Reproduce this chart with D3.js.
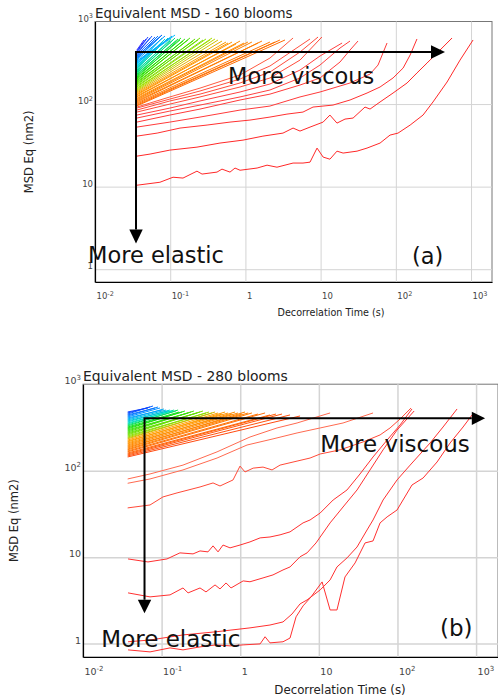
<!DOCTYPE html>
<html>
<head>
<meta charset="utf-8">
<script src="https://cdn.jsdelivr.net/npm/d3@7"></script>
<style>
body { margin: 0; background: #fff; }
svg text { font-family: "DejaVu Sans", Verdana, sans-serif; }
</style>
</head>
<body>
<div id="chart"></div>
<script>
// ---- shared axes ----
var xDomain = [0.01, 1900];
var yDomain = [0.7, 1000];
var xTicks = [0.01, 0.1, 1, 10, 100, 1000];
var yTicks = [1, 10, 100, 1000];

// ---- panel (a): 160 blooms ----
var titleA = "Equivalent MSD - 160 blooms";
// separate red curves, bottom to top, [time (s), MSD (nm2)]
var redCurvesA = [
  [[0.036,10.4],[0.073,11.3],[0.109,13.0],[0.148,12.7],[0.227,15.4],[0.265,14.2],[0.419,15.0],[0.488,16.3],[0.624,15.0],[0.727,16.8],[0.848,15.8],[1.43,16.8],[1.94,18.2],[2.63,17.2],[4.3,19.3],[5.83,19.3],[7.23,19.8],[8.96,29.3],[10.8,22.8],[13.3,21.5],[16.5,26.9],[19.9,25.5],[30.5,26.9],[41.4,29.3],[61.7,33.7],[83.7,42.1],[107,44.5],[155,55.7],[230,73.6],[312,106],[480,185],[714,341],[1064,597]],
  [[0.036,23.4],[0.054,24.8],[0.099,27.7],[0.227,30.1],[0.459,33.7],[0.929,36.6],[1.71,40.9],[3.16,44.5],[4.3,51.2],[5.32,47.1],[7.23,52.6],[10.8,60.5],[13.3,73.6],[16.5,58.8],[21.1,65.8],[27.0,67.7],[38.9,92],[45.4,87],[61.7,106],[91.8,136],[141,180],[191,238],[260,314],[387,451],[559,631]],
  [[0.036,40.9],[0.067,44.5],[0.135,51.2],[0.309,55.7],[0.624,60.5],[1.15,64],[2.12,69.6],[3.57,75.6],[5.83,80],[7.92,92],[14.6,97.2],[24.6,112],[41.4,136],[61.7,161],[91.8,207],[125,273],[155,393],[191,614]],
  [[0.036,52.6],[0.099,60.5],[0.249,69.6],[0.848,84.6],[2.12,94.6],[5.32,122],[9.82,140],[24.6,180],[45.4,231],[58,297],[76.4,549]],
  [[0.036,60.5],[0.099,73.6],[0.249,87],[0.848,112],[2.12,132],[5.32,170],[9.82,207],[18.1,323],[24.6,451],[31.4,580]],
  [[0.036,67.7],[0.099,82.3],[0.249,97.2],[0.848,122],[2.12,148],[5.32,207],[9.82,297],[18.1,477],[24.6,580]],
  [[0.036,73.6],[0.099,89.4],[0.249,109],[0.848,140],[2.12,175],[5.32,258],[9.82,382],[19.3,549]],
  [[0.036,80],[0.099,100],[0.249,122],[0.848,161],[2.12,207],[5.32,341],[10.4,649]],
  [[0.036,84.6],[0.099,109],[0.249,132],[0.848,180],[2.12,244],[5.32,427],[9.24,649]],
  [[0.036,89.4],[0.099,115],[0.249,144],[0.848,201],[2.12,289],[7.23,614]],
  [[0.036,92],[0.099,122],[0.249,156],[0.848,225],[2.12,361],[4.3,631]]
];
// dense fan of curves (orange -> blue), start MSD at fanStartTA, end point
var fanStartTA = 0.036;
var fanStartMsdA = [95,97,100,103,106,109,112,115,118,122,125,129,132,136,
  140,144,148,152,156,161,165,170,175,180,185,190,195,201,207,
  212,219,225,231,238,244,251,258,266,273,281,289,297,305,
  314,323,332,341,351,361,371,382,393,404,415,427,439,451];
var fanEndTA = [3.36,2.88,2.48,2.12,1.66,1.47,1.22,1.08,0.958,0.848,0.75,0.664,0.587,0.552,
  0.488,0.432,0.394,0.36,0.338,0.299,0.273,0.249,0.234,0.214,0.201,0.183,0.172,0.157,0.148,
  0.139,0.135,0.127,0.119,0.116,0.109,0.102,0.0994,0.0935,0.0879,0.0853,0.0802,0.0778,0.0732,
  0.116,0.106,0.0994,0.0853,0.0778,0.0732,0.0688,0.0778,0.0628,0.0573,0.0539,0.0507,0.0477,0.0448];
var fanEndMsdA = [597,597,564,564,580,549,564,564,549,580,534,564,549,564,
  580,597,614,631,597,614,597,631,597,614,580,631,597,614,580,
  631,597,614,580,631,597,614,580,631,597,614,580,631,597,
  686,667,631,667,686,649,667,686,649,667,631,649,614,597];
var arrowA = [0.0351, 427, 451, 2.05];          // corner t, corner MSD, right tip t, lower tip MSD
var notesA = [[0.587, 175], [0.00807, 1.20], [164, 1.15]];

// ---- panel (b): 280 blooms ----
var titleB = "Equivalent MSD - 280 blooms";
var redCurvesB = [
  [[0.037,80.2],[0.0712,91.6],[0.187,116],[0.507,165],[1.33,245],[2.94,312],[5.28,356],[7.73,396],[13.9,465]],
  [[0.037,71.5],[0.0712,80.2],[0.187,102],[0.507,140],[1.22,198],[2.61,233],[5.28,273],[10.4,312],[20.3,356],[48.9,465]],
  [[0.037,37.1],[0.0712,40.1],[0.104,49.7],[0.157,55.3],[0.308,64.8],[0.451,72.1],[0.553,66.5],[0.81,78.1],[0.994,113],[1.15,96.6],[1.46,107],[1.95,110],[2.54,102],[3.21,116],[5.28,129],[7.73,140],[10.4,156],[18.6,174],[36.5,215],[60.1,259],[80.5,312],[108,396],[149,531]],
  [[0.0374,9.53],[0.0671,8.8],[0.117,9.53],[0.171,11.2],[0.251,10.9],[0.308,11.8],[0.389,11.5],[0.451,13.5],[0.522,11.5],[0.604,13.8],[0.742,12.8],[0.994,13.8],[1.33,15.0],[1.79,16.7],[2.39,17.1],[3.21,18.1],[4.3,19.6],[6.3,24.9],[7.73,26.9],[10.4,32.4],[15.2,45.8],[22.8,59.8],[33.4,91.6],[48.9,144],[73.8,226],[108,338],[153,517]],
  [[0.0374,3.86],[0.0712,3.47],[0.128,3.66],[0.187,4.4],[0.217,3.86],[0.308,4.4],[0.367,3.96],[0.478,4.77],[0.553,4.29],[0.66,5.03],[0.764,4.4],[1.09,5.31],[1.33,5.19],[1.95,5.75],[2.61,6.23],[3.5,7.11],[4.3,7.7],[5.77,10.1],[7.08,11.2],[9.21,14.6],[10.4,17.1],[13.9,24.9],[20.3,38],[30.6,59.8],[44.8,102],[65.6,174],[98.8,295],[163,490]],
  [[0.0374,1.05],[0.0712,1.1],[0.187,1.26],[0.492,1.37],[1.33,1.52],[2.39,1.64],[3.5,1.78],[4.56,2.2],[5.77,2.88],[7.08,3.2],[10.4,4.18],[13.9,5.45],[17,7.7],[22.8,9.79],[30.6,13.1],[41,20.6],[48.9,26.9],[65.6,45.8],[98.8,78.1],[145,116],[260,209],[380,320],[573,517]],
  [[0.0374,0.846],[0.0712,0.802],[0.128,0.892],[0.187,0.846],[0.308,0.916],[0.492,0.966],[0.742,0.941],[1.09,0.966],[1.79,0.992],[2.07,1.2],[2.39,1.02],[3.5,1.05],[4.3,1.16],[5.13,2.04],[6.3,2.73],[7.96,3.47],[11,5.17],[13.9,2.45],[17,2.45],[21.5,5.9],[28.9,8.57],[38.7,14.6],[48.9,15.4],[60.1,24.9],[73.8,29.2],[98.8,35.1],[153,68.3],[212,82.3],[319,126],[467,209],[683,320],[890,441]]
];
var fanStartTB = 0.037;
var fanStartMsdB = [144,148,152,156,160,165,169,174,
  178,183,188,193,198,204,209,215,220,226,
  233,239,245,252,259,266,273,280,288,296,304,312,320,
  329,338,347,356,366,376,386,396,407,
  418,429,441,452,465,477];
var fanEndTB = [5.77,4.3,3.4,2.85,2.39,2.07,1.68,1.41,
  1.26,1.15,1.05,0.937,0.859,0.786,0.70,0.641,0.587,0.522,
  0.478,0.438,0.401,0.367,0.336,0.308,0.282,0.258,0.237,0.217,0.198,0.182,0.167,
  0.162,0.152,0.144,0.136,0.128,0.121,0.114,0.107,0.101,
  0.0954,0.090,0.0824,0.0777,0.0712,0.0671];
var fanEndMsdB = [429,441,452,452,441,465,452,465,
  465,477,452,465,477,452,465,477,452,465,
  477,465,477,465,490,477,465,490,477,465,490,477,477,
  503,490,503,490,503,490,503,517,503,
  531,545,531,560,545,531];
var arrowB = [0.0606, 403, 1302, 2.25];
var notesB = [[10.4, 166], [0.0171, 0.923], [348, 1.23]];

var svg = d3.select("#chart").append("svg")
  .attr("width", 498).attr("height", 700);

var panels = [
  { left: 95, top: 21.5, width: 397, height: 260.5, title: titleA, titleY: -4, titleSize: 13.4,
    tickFont: 8.5, supFont: 6.5, supShift: 3.5, xLabelY: 17, xTitleX: 236, xTitleY: 34, xTitleSize: 9.6,
    yTitleX: -62, yTitleSize: 11.5, noteSize: 22.5, gridW: 1,
    red: redCurvesA, redColor: ["#ff2828","#ff2828","#ff3030","#ff3a3a","#ff3a3a","#ff4040","#ff4040","#ff4a3a","#ff4a3a","#ff5040","#ff5a40"],
    fanT: fanStartTA, fanMsd: fanStartMsdA, fanEndT: fanEndTA, fanEndMsd: fanEndMsdA,
    colorStops: [0, 0.23, 0.3, 0.5, 0.6, 0.75, 0.86, 1],
    colorRange: ["#ff6a00","#ff9a00","#a8e000","#20e000","#00e080","#00c8ff","#0080ff","#2a2aff"],
    arrow: arrowA, notes: notesA, tag: "(a)", headLen: 14, headHalf: 6.7 },
  { left: 83, top: 384.2, width: 415, height: 272.8, title: titleB, titleY: -3.2, titleSize: 13.9,
    tickFont: 9.5, supFont: 7, supShift: 4, xLabelY: 18, xTitleX: 257, xTitleY: 37, xTitleSize: 11.8,
    yTitleX: -65, yTitleSize: 11.5, noteSize: 23, gridW: 1.5,
    red: redCurvesB, redColor: ["#ff6a50","#ff6a50","#ff4a38","#ff3030","#ff3030","#ff3030","#ff3030"],
    fanT: fanStartTB, fanMsd: fanStartMsdB, fanEndT: fanEndTB, fanEndMsd: fanEndMsdB,
    colorStops: [0, 0.16, 0.38, 0.45, 0.66, 0.75, 0.87, 1],
    colorRange: ["#ff4a10","#ff7a00","#ffa000","#90e000","#10e010","#00e0c0","#00a0ff","#1040ff"],
    arrow: arrowB, notes: notesB, tag: "(b)", headLen: 13.3, headHalf: 6.7 }
];

function tickText(sel, v, p) {
  var e = Math.round(Math.log10(v));
  sel.text(null);
  if (e === 0) { sel.text("1"); return; }
  if (e === 1) { sel.text("10"); return; }
  sel.append("tspan").text("10");
  sel.append("tspan").attr("font-size", p.supFont).attr("dy", -p.supShift)
    .text(e < 0 ? "-" + (-e) : String(e));
}

panels.forEach(function (p, k) {
  var g = svg.append("g").attr("transform", `translate(${p.left},${p.top})`);
  var x = d3.scaleLog().domain(xDomain).range([0, p.width]);
  var y = d3.scaleLog().domain(yDomain).range([p.height, 0]);

  g.append("rect").attr("width", p.width).attr("height", p.height)
    .attr("fill", "#fff").attr("stroke", "#777").attr("stroke-width", 1);

  // gridlines
  g.append("g").attr("transform", `translate(0,${p.height})`)
    .call(d3.axisBottom(x).tickValues(xTicks.slice(1)).tickSize(-p.height).tickFormat(""))
    .call(s => s.select(".domain").remove())
    .selectAll("line").attr("stroke", "#d4d4d4").attr("stroke-width", p.gridW);
  g.append("g")
    .call(d3.axisLeft(y).tickValues(yTicks.slice(0, 3)).tickSize(-p.width).tickFormat(""))
    .call(s => s.select(".domain").remove())
    .selectAll("line").attr("stroke", "#d4d4d4").attr("stroke-width", p.gridW);

  // curves
  var clipId = "clip" + k;
  g.append("clipPath").attr("id", clipId).append("rect")
    .attr("width", p.width).attr("height", p.height);
  var plot = g.append("g").attr("clip-path", `url(#${clipId})`);
  var line = d3.line().x(d => x(d[0])).y(d => y(d[1]));

  plot.selectAll("path.red").data(p.red).enter().append("path")
    .attr("class", "red")
    .attr("d", line)
    .attr("fill", "none")
    .attr("stroke", (d, i) => p.redColor[i])
    .attr("stroke-width", 1);

  var n = p.fanMsd.length;
  var color = d3.scaleLinear().domain(p.colorStops).range(p.colorRange);
  var fan = p.fanMsd.map((m, i) => [[p.fanT, m], [p.fanEndT[i], p.fanEndMsd[i]]]);
  plot.selectAll("path.fan").data(fan).enter().append("path")
    .attr("class", "fan")
    .attr("d", line)
    .attr("fill", "none")
    .attr("stroke", (d, i) => color(i / (n - 1)))
    .attr("stroke-width", 1);

  // axes
  var xAxis = g.append("g").attr("transform", `translate(0,${p.height})`)
    .call(d3.axisBottom(x).tickValues(xTicks).tickSize(0).tickSizeOuter(0));
  xAxis.select(".domain").attr("stroke", "#000").attr("stroke-width", 1.2);
  xAxis.selectAll("text")
    .attr("y", p.xLabelY).attr("dy", null).attr("x", 1)
    .attr("text-anchor", "start")
    .attr("font-size", p.tickFont).attr("fill", "#444")
    .attr("font-family", "DejaVu Sans")
    .each(function (d) { tickText(d3.select(this), d, p); });

  var yAxis = g.append("g")
    .call(d3.axisLeft(y).tickValues(yTicks).tickSize(0).tickSizeOuter(0).tickPadding(2));
  yAxis.select(".domain").attr("stroke", "#000").attr("stroke-width", 1.2);
  yAxis.selectAll("text")
    .attr("dy", "-0.05em")
    .attr("font-size", p.tickFont).attr("fill", "#444")
    .attr("font-family", "DejaVu Sans")
    .each(function (d) { tickText(d3.select(this), d, p); });

  // titles
  g.append("text").attr("x", 0).attr("y", p.titleY)
    .attr("font-size", p.titleSize).attr("fill", "#222")
    .text(p.title);
  g.append("text")
    .attr("x", p.xTitleX).attr("y", p.height + p.xTitleY)
    .attr("text-anchor", "middle")
    .attr("font-size", p.xTitleSize).attr("fill", "#222")
    .text("Decorrelation Time (s)");
  g.append("text")
    .attr("transform", `translate(${p.yTitleX},${p.height / 2}) rotate(-90)`)
    .attr("text-anchor", "middle")
    .attr("font-size", p.yTitleSize).attr("fill", "#222")
    .text("MSD Eq (nm2)");

  // arrows
  var ax = x(p.arrow[0]), ay = y(p.arrow[1]), rx = x(p.arrow[2]), by = y(p.arrow[3]);
  g.append("path")
    .attr("d", `M${rx - p.headLen},${ay}H${ax}V${by - p.headLen}`)
    .attr("fill", "none").attr("stroke", "#000").attr("stroke-width", 2);
  g.append("path")
    .attr("d", `M${rx},${ay}L${rx - p.headLen},${ay - p.headHalf}L${rx - p.headLen},${ay + p.headHalf}Z`)
    .attr("fill", "#000");
  g.append("path")
    .attr("d", `M${ax},${by}L${ax - p.headHalf},${by - p.headLen}L${ax + p.headHalf},${by - p.headLen}Z`)
    .attr("fill", "#000");

  // notes
  var labels = ["More viscous", "More elastic", p.tag];
  p.notes.forEach(function (pos, i) {
    g.append("text")
      .attr("x", x(pos[0])).attr("y", y(pos[1]))
      .attr("font-family", "'Open Sans', sans-serif")
      .attr("font-size", p.noteSize).attr("fill", "#111")
      .text(labels[i]);
  });
});
</script>
</body>
</html>
